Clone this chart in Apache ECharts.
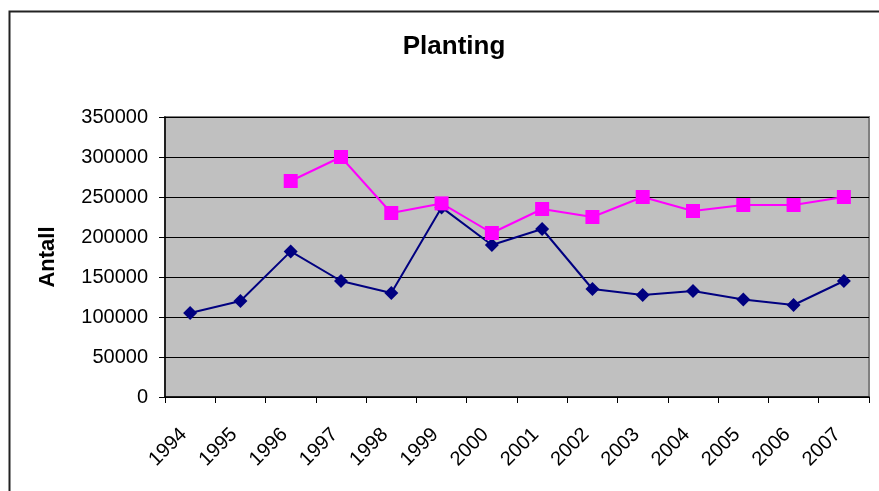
<!DOCTYPE html>
<html><head><meta charset="utf-8">
<script src="https://cdn.jsdelivr.net/npm/echarts@6/dist/echarts.min.js"></script>
<style>html,body{margin:0;padding:0;background:#fff}#c{width:879px;height:491px}</style>
</head><body><div id="c"></div>
<script>
const years = ['1994','1995','1996','1997','1998','1999','2000','2001','2002','2003','2004','2005','2006','2007'];
const seriesBlue = [105000,120000,182000,145000,130000,237000,190000,210000,135000,127500,132500,122000,115000,145000];
const seriesPink = [null,null,270000,300000,230000,242000,205000,235000,225000,250000,232500,240000,240000,250000];
const yTicks = {min:0, max:350000, interval:50000};

const chart = echarts.init(document.getElementById('c'), null, {renderer:'canvas'});
const font = 'Arial, "Liberation Sans", sans-serif';
chart.setOption({
  animation:false,
  backgroundColor:'#fff',
  title:{text:'Planting', left:449, top:29, textAlign:'center',
    textStyle:{fontFamily:font, fontSize:26, fontWeight:'bold', color:'#000'}},
  graphic:[{type:'rect', shape:{x:9.5,y:11.5,width:900,height:500},
    style:{fill:'none', stroke:'#222', lineWidth:2}, silent:true}],
  grid:{left:165, right:10, top:117, bottom:94, show:true, backgroundColor:'#c0c0c0', borderColor:'#808080', borderWidth:2},
  xAxis:{type:'category', data:years, boundaryGap:true,
    axisLine:{lineStyle:{color:'#000', width:1.5}},
    axisTick:{show:true, length:6, inside:false, lineStyle:{color:'#000'}},
    axisLabel:{rotate:45, margin:28, interval:0, padding:[0,9,0,0], fontFamily:font, fontSize:20, color:'#000'}},
  yAxis:{type:'value', min:yTicks.min, max:yTicks.max, interval:yTicks.interval,
    name:'Antall', nameLocation:'middle', nameGap:106, nameRotate:90,
    nameTextStyle:{fontFamily:font, fontSize:22, fontWeight:'bold', color:'#000'},
    axisLine:{show:true, lineStyle:{color:'#000', width:1.5}},
    axisTick:{show:true, length:6, lineStyle:{color:'#000'}},
    axisLabel:{margin:17, fontFamily:font, fontSize:20, color:'#000', formatter:function(v){return String(v);}},
    splitLine:{show:true, lineStyle:{color:'#000', width:1}}},
  series:[
    {type:'line', data:seriesBlue, symbol:'diamond', symbolSize:14, connectNulls:false,
      lineStyle:{color:'#000080', width:2}, itemStyle:{color:'#000080'}},
    {type:'line', data:seriesPink, symbol:'rect', symbolSize:14, connectNulls:false,
      lineStyle:{color:'#ff00ff', width:2}, itemStyle:{color:'#ff00ff'}}
  ]
});
</script></body></html>
